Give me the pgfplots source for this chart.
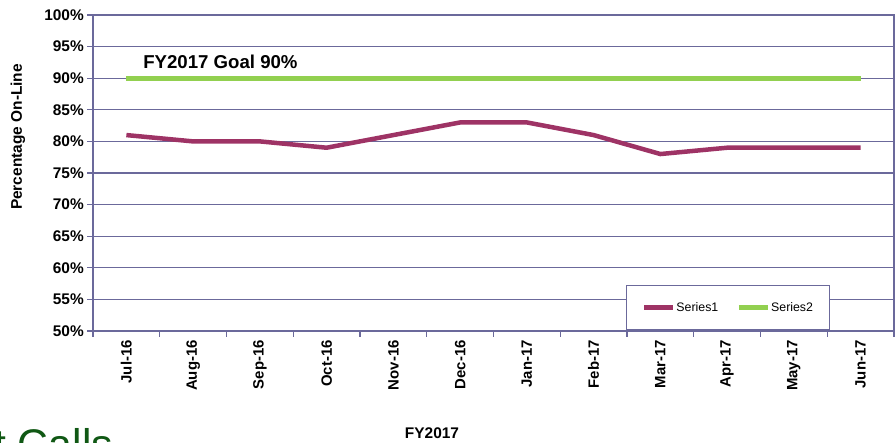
\documentclass[border=0pt]{standalone}
\usepackage{pgfplots}
\pgfplotsset{compat=1.18}
\usepackage{fontspec}
\setmainfont{Liberation Sans}
\definecolor{gridc}{RGB}{107,105,155}
\definecolor{s1}{RGB}{158,51,101}
\definecolor{s2}{RGB}{146,208,80}
\definecolor{callg}{RGB}{16,88,20}
\begin{document}
\begin{tikzpicture}
\useasboundingbox (0bp,0bp) rectangle (895bp,443bp);
\clip (0bp,0bp) rectangle (895bp,443bp);
\begin{axis}[at={(93bp,112bp)}, anchor=south west, scale only axis,
  width=801bp, height=316bp,
  xmin=-0.5, xmax=11.5, ymin=50, ymax=100,
  ytick={50,55,...,100},
  yticklabels={50\%,55\%,60\%,65\%,70\%,75\%,80\%,85\%,90\%,95\%,100\%},
  xtick={-0.5,0.5,...,11.5},
  x tick label as interval,
  xticklabels={Jul-16,Aug-16,Sep-16,Oct-16,Nov-16,Dec-16,Jan-17,Feb-17,Mar-17,Apr-17,May-17,Jun-17},
  x tick label style={rotate=90, anchor=east, font=\bfseries\fontsize{15}{16}\selectfont, inner sep=3bp},
  y tick label style={font=\bfseries\fontsize{15.5}{16}\selectfont, inner sep=3bp},
  /pgf/number format/assume math mode=true,
  tick align=outside, major tick length=6bp,
  xtick pos=bottom, ytick pos=left,
  axis line style={gridc, line width=1.5bp},
  ymajorgrids, grid style={gridc, line width=1.3bp},
  major tick style={gridc, line width=1.3bp},
  legend style={at={(rel axis cs:0.666,0.003)}, anchor=south west, draw=gridc, line width=1bp, fill=white,
    font=\fontsize{12.4}{14}\selectfont, inner xsep=15bp, inner ysep=16bp,
    nodes={inner sep=1bp, anchor=west},
    /tikz/every even column/.append style={column sep=17bp}},
  legend columns=2,
  legend image code/.code={\draw[#1] (0bp,0bp) -- (29bp,0bp);},
]
\addplot[s1, line width=4.5bp] coordinates {(0,81)(1,80)(2,80)(3,79)(4,81)(5,83)(6,83)(7,81)(8,78)(9,79)(10,79)(11,79)};
\addplot[s2, line width=4.8bp] coordinates {(0,90)(1,90)(2,90)(3,90)(4,90)(5,90)(6,90)(7,90)(8,90)(9,90)(10,90)(11,90)};
\legend{Series1,Series2}
\node[anchor=west, font=\bfseries\fontsize{18.7}{20}\selectfont, inner sep=0pt] at (axis cs:0.25,92.6) {FY2017 Goal 90\%};
\end{axis}
\node[rotate=90, font=\bfseries\fontsize{15.5}{16}\selectfont] at (18bp,306bp) {Percentage On-Line};
\node[font=\bfseries\fontsize{15.5}{16}\selectfont] at (432bp,10bp) {FY2017};
\node[anchor=north west, font=\fontsize{43}{45}\selectfont, text=callg, inner sep=0pt] at (-6bp,15bp) {t Calls};
\end{tikzpicture}
\end{document}
